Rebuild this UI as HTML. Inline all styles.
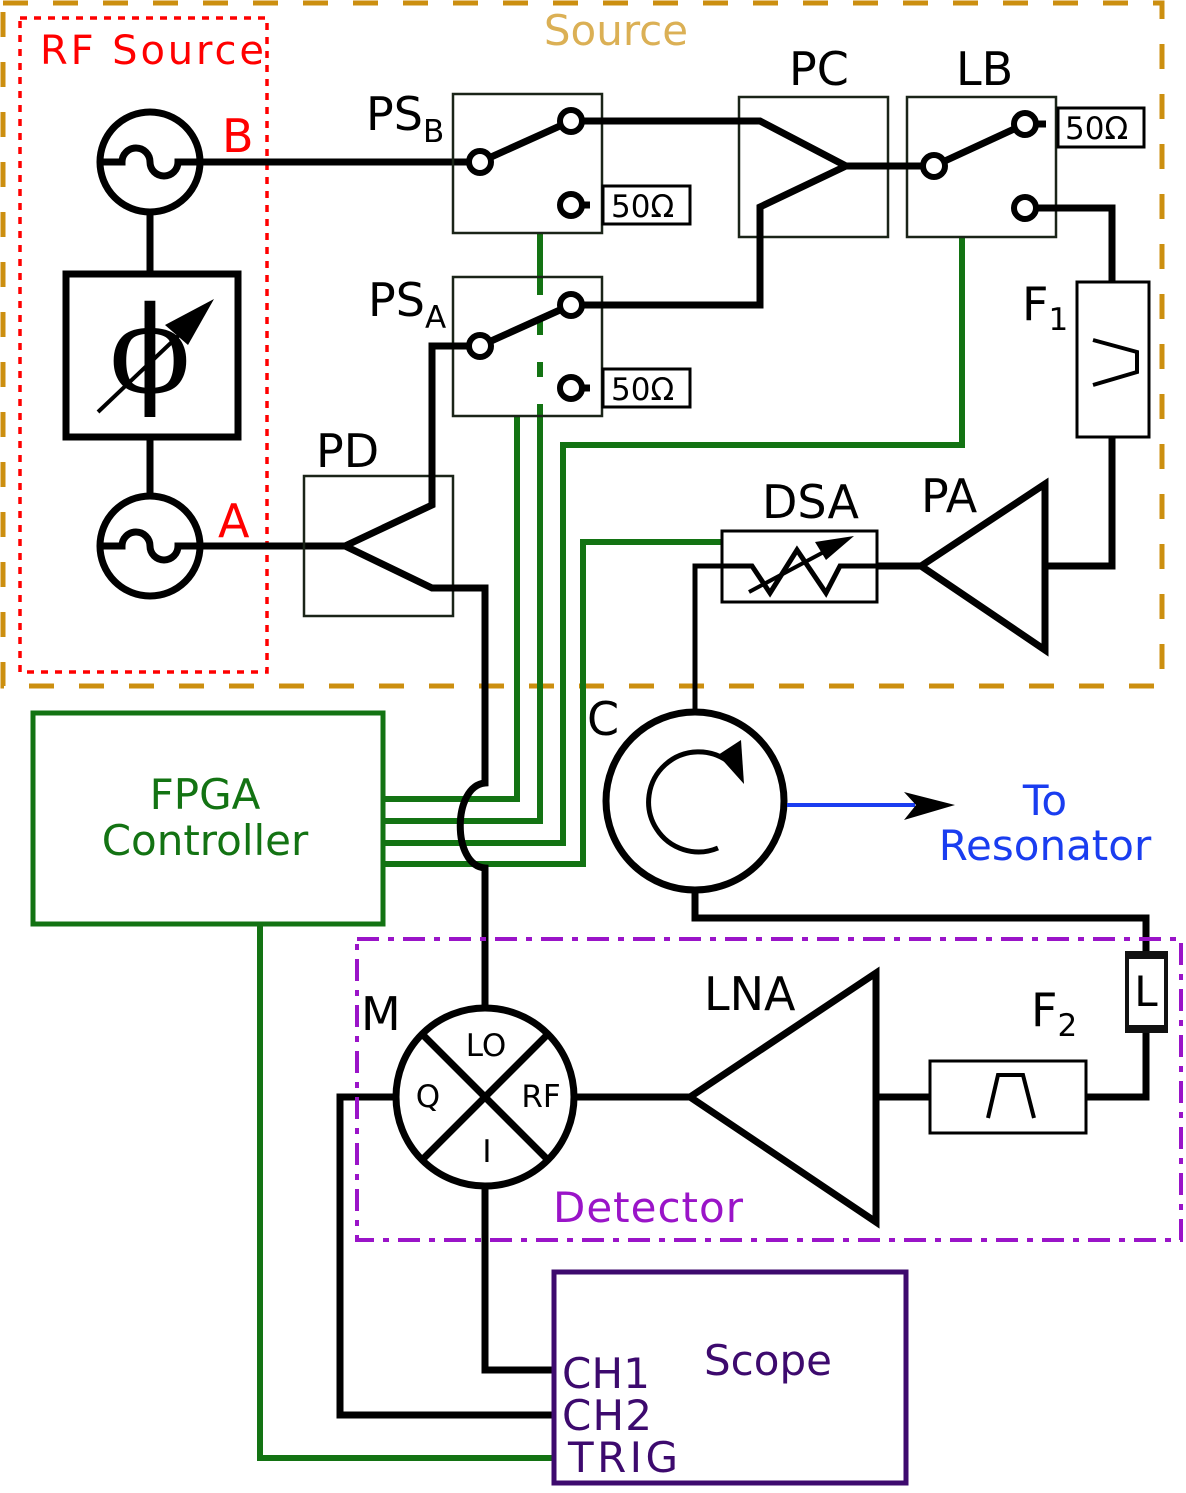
<!DOCTYPE html>
<html><head><meta charset="utf-8"><style>html,body{margin:0;padding:0;background:#fff}svg{display:block}</style></head>
<body>
<svg width="1186" height="1493" viewBox="0 0 1186 1493" xmlns="http://www.w3.org/2000/svg" font-family="DejaVu Sans, Liberation Sans, sans-serif">
<rect x="3" y="3" width="1159" height="683" fill="none" stroke="#cc8f10" stroke-width="5" stroke-dasharray="25 25"/>
<text x="616" y="45" font-size="42" fill="#dbb055" text-anchor="middle">Source</text>
<rect x="20" y="18" width="247" height="654" fill="none" stroke="#f00" stroke-width="3.5" stroke-dasharray="7 7"/>
<text x="40" y="64" font-size="40" fill="#f00" textLength="224">RF Source</text>
<g stroke="#000" stroke-width="7" fill="none">
<circle cx="150" cy="162" r="50"/>
<circle cx="150" cy="546" r="50"/>
<path d="M100,162 H122 A14,14 0 0 1 150,162 A14,14 0 0 0 178,162 H200"/>
<path d="M100,546 H122 A14,14 0 0 1 150,546 A14,14 0 0 0 178,546 H200"/>
<rect x="66" y="274" width="172" height="163"/>
<path d="M150,212 V274 M150,437 V496"/>
<path d="M200,162 H480 M200,546 H345"/>
</g>
<text x="150" y="392" font-size="120" font-family="DejaVu Serif, Liberation Serif, serif" text-anchor="middle">ϕ</text>
<line x1="98" y1="412" x2="195" y2="320" stroke="#000" stroke-width="4"/>
<polygon points="214,299 165,325 188,345" fill="#000"/>
<text x="222" y="152" font-size="46" fill="#f00">B</text>
<text x="218" y="537" font-size="46" fill="#f00">A</text>
<g stroke="#137313" stroke-width="6" fill="none">
<path d="M962,237 V445 H563 V843 H385"/>
<path d="M722,542 H583 V864 H385"/>
<path d="M517,417 V799 H385"/>
<path d="M540,233 V295 M540,321 V335 M540,362 V377 M540,404 V821 H385"/>
<rect x="33" y="713" width="350" height="211" stroke-width="5"/>
<path d="M260,926 V1458 H553"/>
</g>
<text x="205" y="809" font-size="42" fill="#137313" text-anchor="middle">FPGA</text>
<text x="205" y="855" font-size="42" fill="#137313" text-anchor="middle">Controller</text>
<g stroke="#1a2418" stroke-width="2.5" fill="none">
<rect x="453" y="94" width="149" height="139"/>
<rect x="453" y="277" width="149" height="139"/>
<rect x="304" y="476" width="149" height="140"/>
<rect x="739" y="97" width="149" height="140"/>
<rect x="907" y="97" width="149" height="140"/>
</g>
<g stroke="#000" stroke-width="3" fill="#fff">
<rect x="603" y="186" width="87" height="38"/>
<rect x="603" y="369" width="87" height="38"/>
<rect x="1058" y="108" width="86" height="39"/>
<rect x="1077" y="282" width="72" height="155"/>
<rect x="722" y="531" width="155" height="71"/>
<rect x="930" y="1061" width="156" height="72"/>
</g>
<g font-size="31">
<text x="611" y="217">50Ω</text>
<text x="611" y="400">50Ω</text>
<text x="1065" y="139">50Ω</text>
</g>
<g font-size="46">
<text x="366" y="130">PS<tspan font-size="31" dy="12">B</tspan></text>
<text x="368" y="316">PS<tspan font-size="31" dy="12">A</tspan></text>
<text x="316" y="467">PD</text>
<text x="789" y="85">PC</text>
<text x="956" y="85">LB</text>
<text x="1022" y="320">F<tspan font-size="31" dy="10">1</tspan></text>
<text x="762" y="518">DSA</text>
<text x="921" y="512">PA</text>
<text x="587" y="735">C</text>
<text x="361" y="1030">M</text>
<text x="704" y="1010">LNA</text>
<text x="1031" y="1026">F<tspan font-size="31" dy="10">2</tspan></text>
</g>
<g stroke="#000" stroke-width="7" fill="none" stroke-linejoin="miter">
<path d="M480,162 L571,121"/>
<path d="M480,346 L571,305"/>
<path d="M1025,124 L934,166"/>
<path d="M345,546 L432,505 V346 H469"/>
<path d="M345,546 L432,588 H485 V783 C452,786 452,866 485,868 V1005"/>
<path d="M582,121 H760 L846,166 H923"/>
<path d="M846,166 L760,207 V305 H582"/>
<path d="M582,205 H590 M582,388 H590 M1036,124 H1046"/>
<path d="M1036,208 H1112 V282 M1112,437 V566 H1045"/>
<path d="M921,566 L1045,484 V650 Z"/>
<path d="M877,566 H921"/>
<path d="M695,710 V566 H752 L770,593 L797,550 L826,593 L840,566 H877" stroke-width="5"/>
<circle cx="695" cy="801" r="89"/>
<path d="M695,890 V918 H1146 V953 M1146,1031 V1097 H1086 M930,1097 H876 M690,1097 H576"/>
<path d="M690,1097 L876,973 V1222 Z"/>
<circle cx="485" cy="1097" r="89"/>
<path d="M422,1034 L548,1160 M548,1034 L422,1160"/>
<path d="M396,1097 H340 V1415 H553 M485,1186 V1370 H553"/>
</g>
<g stroke="#000" stroke-width="6" fill="#fff">
<circle cx="480" cy="162" r="11"/><circle cx="571" cy="121" r="11"/><circle cx="571" cy="205" r="11"/>
<circle cx="480" cy="346" r="11"/><circle cx="571" cy="305" r="11"/><circle cx="571" cy="388" r="11"/>
<circle cx="934" cy="166" r="11"/><circle cx="1025" cy="124" r="11"/><circle cx="1025" cy="208" r="11"/>
</g>
<path d="M1093,340 L1137,352 V372 L1093,385" stroke="#000" stroke-width="4" fill="none"/>
<path d="M988,1118 L998,1075 H1023 L1034,1118" stroke="#000" stroke-width="4" fill="none"/>
<line x1="749" y1="592" x2="835" y2="546" stroke="#000" stroke-width="4"/>
<polygon points="854,536 815,542 826,560" fill="#000"/>
<path d="M718,848 A50,50 0 1 1 730,763" stroke="#000" stroke-width="5" fill="none"/>
<polygon points="718,755 741,740 744,784" fill="#000"/>
<line x1="787" y1="805" x2="915" y2="805" stroke="#1a3df0" stroke-width="4"/>
<polygon points="955,805 904,792 916,805 904,820" fill="#000"/>
<text x="1045" y="815" font-size="42" fill="#1a3df0" text-anchor="middle">To</text>
<text x="1045" y="860" font-size="42" fill="#1a3df0" text-anchor="middle">Resonator</text>
<rect x="1127" y="955" width="39" height="75" fill="#fff" stroke="#111" stroke-width="4"/>
<rect x="1125" y="951" width="43" height="8" fill="#111"/>
<rect x="1125" y="1025" width="43" height="8" fill="#111"/>
<text x="1146" y="1006" font-size="42" text-anchor="middle">L</text>
<g font-size="31" text-anchor="middle">
<text x="486" y="1056">LO</text>
<text x="428" y="1107">Q</text>
<text x="541" y="1107">RF</text>
<text x="487" y="1162">I</text>
</g>
<rect x="357" y="939" width="824" height="301" fill="none" stroke="#9a14c8" stroke-width="4" stroke-dasharray="22 9 6 9"/>
<text x="553" y="1222" font-size="42" fill="#9a14c8" textLength="190">Detector</text>
<rect x="554" y="1272" width="352" height="211" fill="none" stroke="#3d0a6e" stroke-width="5"/>
<g font-size="42" fill="#3d0a6e">
<text x="768" y="1375" text-anchor="middle">Scope</text>
<text x="562" y="1388" textLength="88">CH1</text>
<text x="562" y="1430" textLength="90">CH2</text>
<text x="568" y="1472" textLength="110">TRIG</text>
</g>
</svg>
</body></html>
